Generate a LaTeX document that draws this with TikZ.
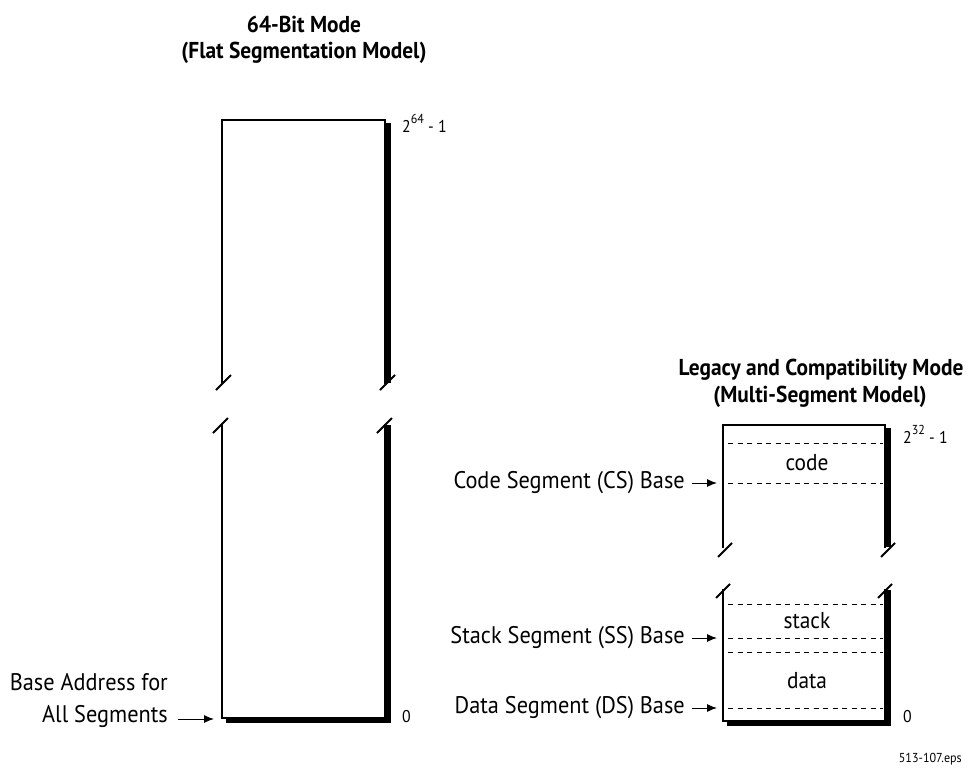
\documentclass[tikz,border=0pt]{standalone}
\usepackage{fontspec}
\setmainfont{PT Sans}[FakeStretch=0.93]
\usetikzlibrary{arrows.meta}
\newcommand\supnum[1]{\raisebox{0.5em}{\fontsize{13}{13}\selectfont #1}}
\begin{document}
\begin{tikzpicture}[x=1pt,y=-1pt,
  outline/.style={line width=2pt, line cap=rect, line join=miter},
  slash/.style={line width=2pt},
  shadowfill/.style={fill=black, draw=none},
  dline/.style={line width=1pt, dash pattern=on 5pt off 4.5pt},
  lbl/.style={inner sep=0pt, font=\fontsize{24}{28}\selectfont},
  seg/.style={inner sep=0pt, font=\fontsize{23}{26}\selectfont},
  lim/.style={inner sep=0pt, anchor=base west, font=\fontsize{17}{20}\selectfont},
  ttl/.style={inner sep=0pt, font=\bfseries\fontsize{23}{26}\selectfont},
  arr/.style={line width=1pt, -{Latex[length=10pt,width=8pt]}},
  note/.style={inner sep=0pt, font=\fontsize{13}{15}\selectfont}
]
\useasboundingbox (0,0) rectangle (975,779);

% ---------- titles
\node[ttl] (t1a) at (304,24) {64-Bit Mode};
\node[ttl] (t1b) at (304,53) {(Flat Segmentation Model)};
\node[ttl] (t2a) at (821,370) {Legacy and Compatibility Mode};
\node[ttl] (t2b) at (820,397) {(Multi-Segment Model)};

% ---------- left box (64-bit), upper part
\fill[shadowfill] (385,123) rectangle (391,383);
\draw[outline] (222,383) -- (222,120) -- (385,120) -- (385,383);
\draw[slash] (216,390) -- (231,375);
\draw[slash] (380,390) -- (395,375);
% lower part
\fill[shadowfill] (385,425) rectangle (391,723);
\fill[shadowfill] (226,718) rectangle (391,723);
\draw[outline] (222,425) -- (222,718) -- (385,718) -- (385,425);
\draw[slash] (213,433) -- (228,418);
\draw[slash] (377,433) -- (392,418);

\node[lim] (l64) at (402,132) {2\supnum{64} - 1};
\node[lim] (l0) at (402,722) {0};

\node[lbl, anchor=east] (baseA) at (168,682) {Base Address for};
\node[lbl, anchor=east] (baseB) at (168,716) {All Segments};
\coordinate (lefttgt) at (214,719);
\draw[arr] ([xshift=10pt]baseB.east |- lefttgt) -- (lefttgt);

% ---------- right box (legacy), upper part
\fill[shadowfill] (885,428) rectangle (891,547);
\draw[outline] (723,547) -- (723,425) -- (885,425) -- (885,547);
\draw[slash] (718,557) -- (732,543);
\draw[slash] (881,557) -- (895,543);
\draw[dline] (728,443) -- (883,443);
\draw[dline] (728,483) -- (883,483);
% lower part
\fill[shadowfill] (885,590) rectangle (891,726);
\fill[shadowfill] (727,721) rectangle (891,726);
\draw[outline] (723,590) -- (723,721) -- (885,721) -- (885,590);
\draw[slash] (716,598) -- (730,584);
\draw[slash] (878,598) -- (892,584);
\draw[dline] (728,604) -- (883,604);
\draw[dline] (728,638) -- (883,638);
\draw[dline] (728,652) -- (883,652);
\draw[dline] (728,708) -- (883,708);

\node[seg] (code) at (807,463) {code};
\node[seg] (stack) at (807,621) {stack};
\node[seg] (data) at (807,681) {data};

\node[lim] (l32) at (903,443) {2\supnum{32} - 1};
\node[lim] (r0) at (903,722) {0};

\node[lbl, anchor=east] (cs) at (685,483) {Code Segment (CS) Base};
\node[lbl, anchor=east] (ss) at (685,638) {Stack Segment (SS) Base};
\node[lbl, anchor=east] (ds) at (685,708) {Data Segment (DS) Base};
\coordinate (cst) at (717,483);
\coordinate (sst) at (717,638);
\coordinate (dst) at (717,708);
\draw[arr] ([xshift=7pt]cs.east |- cst) -- (cst);
\draw[arr] ([xshift=7pt]ss.east |- sst) -- (sst);
\draw[arr] ([xshift=7pt]ds.east |- dst) -- (dst);

\node[note, anchor=base east] (eps) at (962,762) {513-107.eps};
\end{tikzpicture}
\end{document}
